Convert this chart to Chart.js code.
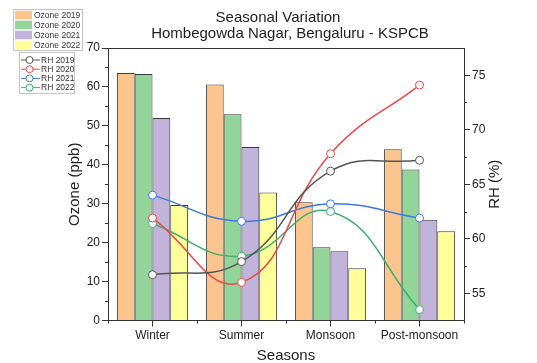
<!DOCTYPE html>
<html>
<head>
<meta charset="utf-8">
<script src="https://cdn.jsdelivr.net/npm/chart.js@4.4.0/dist/chart.umd.min.js"></script>
<style>
  html, body { margin: 0; padding: 0; background: #fff; }
  #wrap { width: 537px; height: 363px; position: relative; }
</style>
</head>
<body>
<div id="wrap"><canvas id="chart"></canvas></div>
<script>
// Seasonal ozone (ppb, bars) and relative humidity (%, lines)
const seasons = ["Winter", "Summer", "Monsoon", "Post-monsoon"];
const years = ["2019", "2020", "2021", "2022"];

const ozone2019 = [63.6, 60.6, 30.4, 44.0];
const ozone2020 = [63.3, 53.0, 18.8, 38.8];
const ozone2021 = [52.0, 44.6, 17.8, 25.9];
const ozone2022 = [29.7, 32.9, 13.4, 22.9];

const rh2019 = [56.7, 57.9, 66.2, 67.2];
const rh2020 = [61.9, 56.0, 67.8, 74.1];
const rh2021 = [64.0, 61.6, 63.2, 61.9];
const rh2022 = [61.4, 58.4, 62.5, 53.5];

const rhTicks = [55, 60, 65, 70, 75];
const rhMinorTicks = [57.5, 62.5, 67.5, 72.5];

const titleLines = ["Seasonal Variation", "Hombegowda Nagar, Bengaluru - KSPCB"];
const rhTitle = "RH (%)";

const barColors = ["#FCC58E", "#93D499", "#C1B3D9", "#FFFF99"];
const lineColors = ["#555555", "#EF4848", "#3B79E0", "#3EB06B"];

const FONT = "'Liberation Sans', Arial, sans-serif";
Chart.defaults.font.family = FONT;
Chart.defaults.color = "#222";

const ozoneSeries = [ozone2019, ozone2020, ozone2021, ozone2022];
const rhSeries = [rh2019, rh2020, rh2021, rh2022];

const datasets = [];
ozoneSeries.forEach((data, i) => {
  datasets.push({
    type: "bar",
    label: "Ozone " + years[i],
    data,
    yAxisID: "y",
    backgroundColor: barColors[i],
    borderColor: "#3a3a3a",
    borderWidth: 1,
    barPercentage: 1,
    categoryPercentage: 0.8,
    order: 2,
  });
});
rhSeries.forEach((data, i) => {
  datasets.push({
    type: "line",
    label: "RH " + years[i],
    data,
    yAxisID: "y1",
    borderColor: lineColors[i],
    borderWidth: 1.5,
    tension: 0.45,
    pointRadius: 4,
    pointBackgroundColor: "#fff",
    pointBorderColor: lineColors[i],
    pointBorderWidth: 1,
    order: 1,
  });
});

// frame top edge, minor ticks, titles and the two legend boxes
const decorations = {
  id: "decorations",
  afterDraw(chart) {
    const { ctx, chartArea: a, scales } = chart;
    ctx.save();
    ctx.strokeStyle = "#333";
    ctx.lineWidth = 1;

    ctx.beginPath();
    ctx.moveTo(a.left, Math.round(a.top) + 0.5);
    ctx.lineTo(a.right, Math.round(a.top) + 0.5);
    ctx.stroke();

    ctx.beginPath();
    for (let v = 5; v < 70; v += 10) {
      const y = Math.round(scales.y.getPixelForValue(v)) + 0.5;
      ctx.moveTo(a.left - 3, y);
      ctx.lineTo(a.left, y);
    }
    rhMinorTicks.forEach((v) => {
      const y = Math.round(scales.y1.getPixelForValue(v)) + 0.5;
      ctx.moveTo(a.right, y);
      ctx.lineTo(a.right + 3, y);
    });
    for (let i = 0; i <= seasons.length; i++) {
      const x = Math.round(a.left + (i * (a.right - a.left)) / seasons.length) + 0.5;
      ctx.moveTo(x, a.bottom);
      ctx.lineTo(x, a.bottom + 3);
    }
    ctx.stroke();

    // chart title
    ctx.fillStyle = "#222";
    ctx.font = "15px " + FONT;
    ctx.textAlign = "center";
    ctx.textBaseline = "middle";
    ctx.fillText(titleLines[0], 278, 18);
    ctx.fillText(titleLines[1], 290, 34);

    // right axis title, reading bottom to top like the left one
    ctx.save();
    ctx.translate(495, (a.top + a.bottom) / 2);
    ctx.rotate(-Math.PI / 2);
    ctx.fillText(rhTitle, 0, 0);
    ctx.restore();

    // ozone legend
    ctx.strokeStyle = "#c4c4c4";
    ctx.strokeRect(13.5, 9.5, 69, 41);
    ctx.font = "8.5px " + FONT;
    ctx.textAlign = "left";
    years.forEach((yr, i) => {
      const cy = 15 + i * 10;
      ctx.fillStyle = barColors[i];
      ctx.fillRect(15, cy - 4.3, 17, 8.6);
      ctx.fillStyle = "#333";
      ctx.fillText("Ozone " + yr, 34, cy + 0.5);
    });

    // RH legend
    ctx.strokeStyle = "#c4c4c4";
    ctx.strokeRect(19.5, 52.5, 55, 41);
    years.forEach((yr, i) => {
      const cy = 60 + i * 9.2;
      ctx.strokeStyle = lineColors[i];
      ctx.lineWidth = 1;
      ctx.beginPath();
      ctx.moveTo(21, cy);
      ctx.lineTo(40, cy);
      ctx.stroke();
      ctx.beginPath();
      ctx.arc(29.5, cy, 3.5, 0, Math.PI * 2);
      ctx.fillStyle = "#fff";
      ctx.fill();
      ctx.stroke();
      ctx.fillStyle = "#333";
      ctx.fillText("RH " + yr, 41, cy + 0.5);
    });
    ctx.restore();
  },
};

new Chart(document.getElementById("chart"), {
  type: "bar",
  data: { labels: seasons, datasets },
  options: {
    responsive: true,
    maintainAspectRatio: false,
    animation: false,
    layout: { padding: { top: 48, left: 62, right: 29, bottom: 0 } },
    plugins: {
      legend: { display: false },
      tooltip: { enabled: false },
    },
    scales: {
      x: {
        grid: { drawOnChartArea: false, offset: false, tickLength: 6, color: "#333" },
        border: { color: "#333" },
        ticks: { font: { size: 12 }, padding: 2, color: "#222", maxRotation: 0 },
        title: { display: true, text: "Seasons", font: { size: 15, lineHeight: 1 }, padding: { top: 0, bottom: 0 }, color: "#222" },
        afterFit: (s) => { s.height = 42.5; },
      },
      y: {
        position: "left",
        min: 0,
        max: 70,
        ticks: { stepSize: 10, font: { size: 12 }, padding: 2, color: "#222" },
        grid: { drawOnChartArea: false, tickLength: 6, color: "#333" },
        border: { color: "#333" },
        title: { display: true, text: "Ozone (ppb)", font: { size: 15 }, color: "#222" },
        afterFit: (s) => { s.width = 46; },
      },
      y1: {
        position: "right",
        min: 52.5,
        max: 77.5,
        afterBuildTicks: (s) => { s.ticks = rhTicks.map((v) => ({ value: v })); },
        ticks: { font: { size: 12 }, padding: 2, color: "#222" },
        grid: { drawOnChartArea: false, tickLength: 6, color: "#333" },
        border: { color: "#333" },
        afterFit: (s) => { s.width = 44; },
      },
    },
  },
  plugins: [decorations],
});
</script>
</body>
</html>
